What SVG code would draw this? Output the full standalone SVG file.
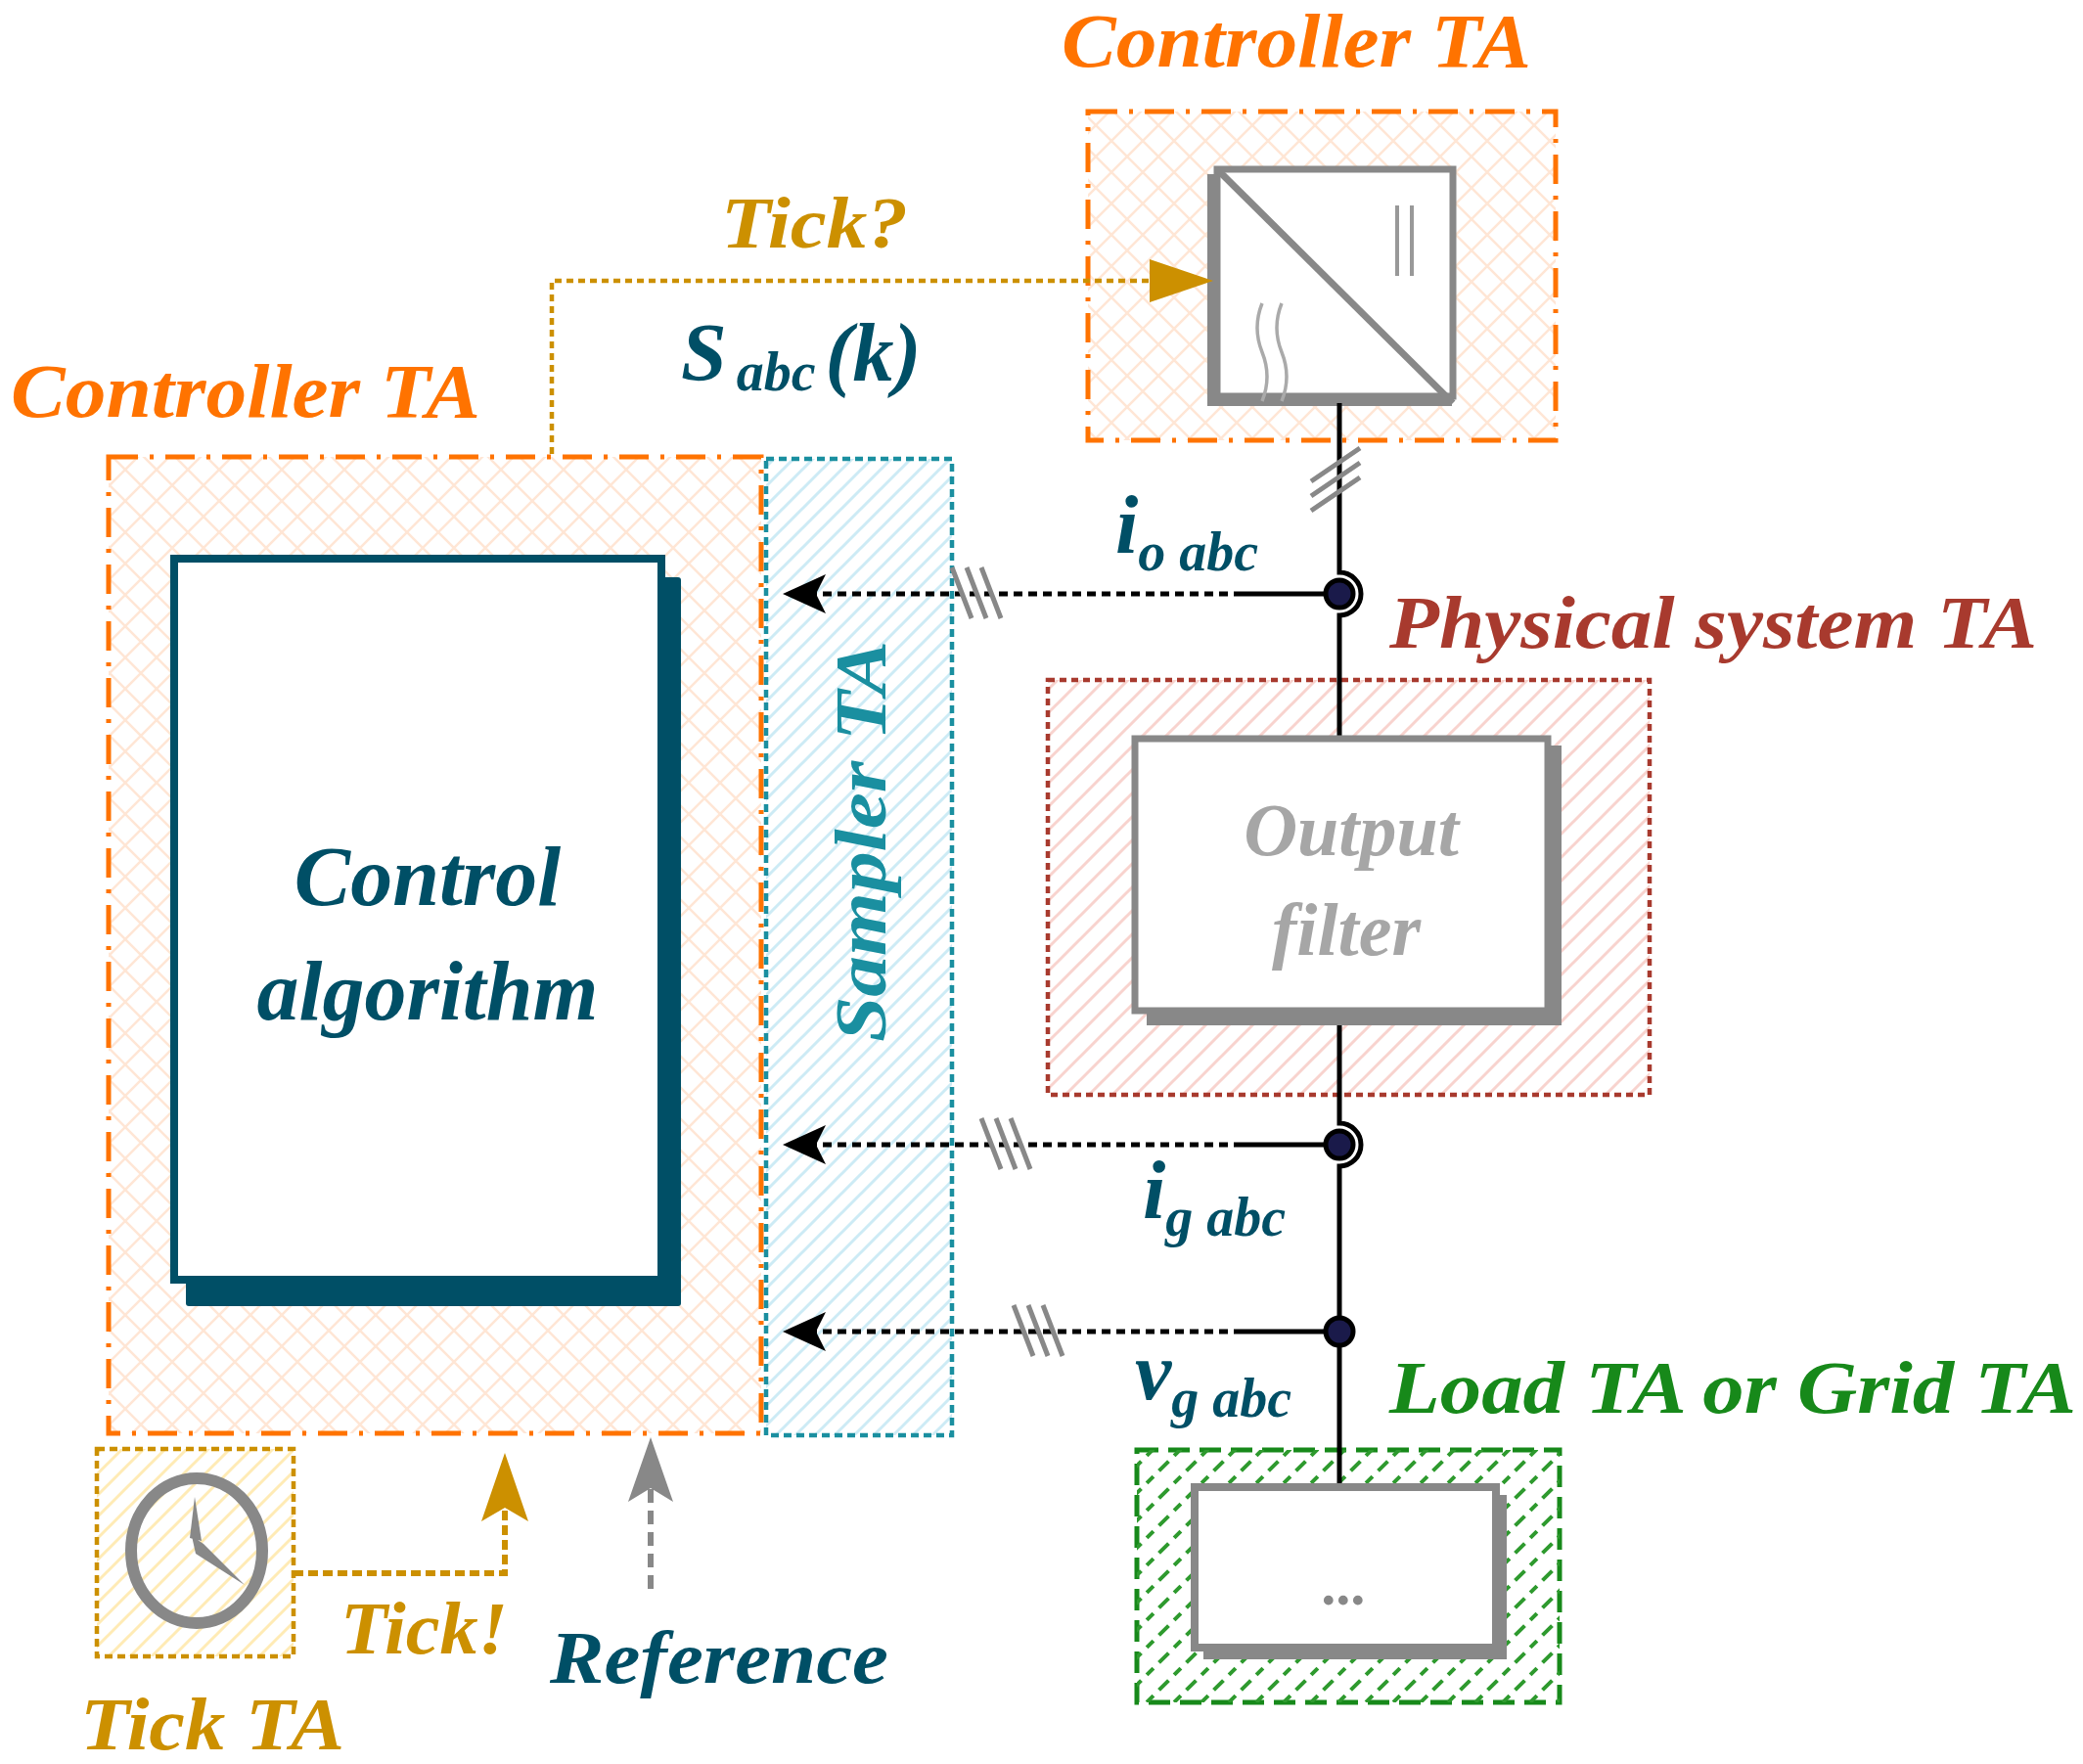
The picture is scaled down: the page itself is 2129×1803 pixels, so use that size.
<svg xmlns="http://www.w3.org/2000/svg" width="2129" height="1803" viewBox="0 0 2129 1803">
<style>
text{font-family:"Liberation Serif","Times New Roman",serif;font-weight:bold;font-style:italic}
.or{fill:#FF7300}.gold{fill:#CC9000}.teal{fill:#004F66}.red{fill:#A83A2E}.grn{fill:#17891A}
.conn{stroke:#000;stroke-width:5;stroke-dasharray:9 6;fill:none}
.slash{stroke:#888;stroke-width:5}
.wire{stroke:#000;stroke-width:5;fill:none}
</style>
<defs>
<pattern id="pOr" width="32" height="32" patternUnits="userSpaceOnUse"><path d="M0 0L32 32M32 0L0 32" stroke="#FFE6D5" stroke-width="2.5"/></pattern>
<pattern id="pBl" width="20" height="20" patternUnits="userSpaceOnUse"><path d="M-5 25L25 -5M-5 5L5 -5M15 25L25 15" stroke="#CDEBF5" stroke-width="3"/></pattern>
<pattern id="pRd" width="24" height="24" patternUnits="userSpaceOnUse"><path d="M-6 30L30 -6M-6 6L6 -6M18 30L30 18" stroke="#F8D3CE" stroke-width="3"/></pattern>
<pattern id="pGr" width="28" height="28" patternUnits="userSpaceOnUse"><path d="M-7 35L35 -7M-7 7L7 -7M21 35L35 21" stroke="#2E9A2E" stroke-width="4" stroke-dasharray="14 8"/></pattern>
<pattern id="pYl" width="22" height="22" patternUnits="userSpaceOnUse"><path d="M-5 27L27 -5M-5 5L5 -5M17 27L27 17" stroke="#FFEBB5" stroke-width="3"/></pattern>
</defs>

<g id="controller-top">
<rect x="1112" y="114" width="478" height="336" fill="url(#pOr)" stroke="#FF7300" stroke-width="5" stroke-dasharray="30 12 4 12"/>
<text x="1085" y="68" class="or" font-size="78" textLength="480" lengthAdjust="spacingAndGlyphs">Controller TA</text>
</g>
<g id="converter">
<rect x="1234" y="178" width="250" height="237" fill="#888"/>
<rect x="1244" y="173" width="241" height="232" fill="#fff" stroke="#888" stroke-width="7"/>
<path d="M1244 173L1485 412" stroke="#888" stroke-width="7"/>
<path d="M1428 210V282M1443 210V282" stroke="#999" stroke-width="4"/>
<path d="M1290 310q-10 25 0 50q10 25 0 50M1310 310q-10 25 0 50q10 25 0 50" stroke="#aaa" stroke-width="3.5" fill="none"/>
</g>

<g id="controller-left">
<rect x="111" y="467" width="667" height="998" fill="url(#pOr)" stroke="#FF7300" stroke-width="5" stroke-dasharray="30 12 4 12"/>
<text x="11" y="426" class="or" font-size="78" textLength="480" lengthAdjust="spacingAndGlyphs">Controller TA</text>
</g>
<g id="control-algorithm">
<rect x="190" y="590" width="506" height="745" fill="#004F66" rx="3"/>
<rect x="178" y="571" width="498" height="737" fill="#fff" stroke="#004F66" stroke-width="8"/>
<text x="437" y="925" class="teal" font-size="86" text-anchor="middle">Control</text>
<text x="437" y="1042" class="teal" font-size="86" text-anchor="middle">algorithm</text>
</g>
<g id="sampler">
<rect x="783" y="469" width="190" height="998" fill="url(#pBl)" stroke="#1A8FA0" stroke-width="4.5" stroke-dasharray="8 5"/>
<text transform="translate(905 860) rotate(-90)" fill="#1A8FA0" font-size="74" text-anchor="middle" textLength="410" lengthAdjust="spacingAndGlyphs">Sampler TA</text>
</g>

<g id="physical">
<rect x="1071" y="695" width="615" height="424" fill="url(#pRd)" stroke="#A83A2E" stroke-width="4.5" stroke-dasharray="7 5"/>
<text x="1420" y="662" class="red" font-size="76" textLength="662" lengthAdjust="spacingAndGlyphs">Physical system TA</text>
</g>

<g id="load">
<rect x="1162" y="1482" width="432" height="258" fill="#fff" stroke="#17891A" stroke-width="5" stroke-dasharray="22 10"/>
<rect x="1162" y="1482" width="432" height="258" fill="url(#pGr)"/>
<text x="1420" y="1444" class="grn" font-size="76" textLength="702" lengthAdjust="spacingAndGlyphs">Load TA or Grid TA</text>
</g>

<g id="tick">
<rect x="99" y="1481" width="201" height="212" fill="url(#pYl)" stroke="#CC9000" stroke-width="4.5" stroke-dasharray="8 5"/>
<ellipse cx="201" cy="1585" rx="67" ry="74" fill="none" stroke="#888" stroke-width="12"/>
<path d="M199 1530L206 1575L194 1572Z M196 1570L208 1578L250 1620L200 1588Z" fill="#888"/>
<text x="82" y="1788" class="gold" font-size="76" textLength="270" lengthAdjust="spacingAndGlyphs">Tick TA</text>
</g>

<g id="connectors">
<path class="wire" d="M1369 412V585a22 22 0 0 1 0 44V753M1369 1033V1148a22 22 0 0 1 0 44V1520"/>
<path class="slash" d="M1340 492L1390 458M1340 507L1390 473M1340 522L1390 488"/>
<path class="wire" d="M1270 607H1369M1270 1170H1369M1270 1361H1369"/>
<path class="conn" d="M1270 607H830M1270 1170H830M1270 1361H830"/>
<path d="M800 607l44-20l-10 20l10 20z M800 1170l44-20l-10 20l10 20z M800 1361l44-20l-10 20l10 20z" fill="#000"/>
<path class="slash" d="M973 580l20 52M988 580l20 52M1003 580l20 52"/>
<path class="slash" d="M1003 1143l20 52M1018 1143l20 52M1033 1143l20 52"/>
<path class="slash" d="M1036 1334l20 52M1051 1334l20 52M1066 1334l20 52"/>
<circle cx="1369" cy="607" r="14" fill="#1A1A4A" stroke="#000" stroke-width="5"/>
<circle cx="1369" cy="1170" r="14" fill="#1A1A4A" stroke="#000" stroke-width="5"/>
<circle cx="1369" cy="1361" r="14" fill="#1A1A4A" stroke="#000" stroke-width="5"/>
<path d="M564 464V287H1175" fill="none" stroke="#CC9000" stroke-width="4.5" stroke-dasharray="7 5"/>
<path d="M1175 265L1240 287L1175 309Z" fill="#CC9000"/>
<path d="M300 1608H516V1525" fill="none" stroke="#CC9000" stroke-width="6" stroke-dasharray="10 5"/>
<path d="M516 1485L540 1555L516 1541L492 1555Z" fill="#CC9000"/>
<path d="M665 1624V1520" fill="none" stroke="#888" stroke-width="6" stroke-dasharray="14 8"/>
<path d="M665 1469L688 1535L665 1521L642 1535Z" fill="#888"/>
</g>

<g id="output-filter">
<rect x="1172" y="762" width="424" height="286" fill="#888"/>
<rect x="1160" y="755" width="422" height="278" fill="#fff" stroke="#888" stroke-width="7"/>
<text x="1381" y="874" fill="#A6A6A6" font-size="76" text-anchor="middle">Output</text>
<text x="1376" y="976" fill="#A6A6A6" font-size="76" text-anchor="middle">filter</text>
</g>
<g id="load-block">
<rect x="1230" y="1528" width="310" height="168" fill="#888"/>
<rect x="1221" y="1520" width="308" height="164" fill="#fff" stroke="#888" stroke-width="8"/>
<text x="1375" y="1640" fill="#888" font-size="60" text-anchor="middle" font-style="normal">...</text>
</g>

<g id="labels">
<text x="737" y="253" class="gold" font-size="74" textLength="191" lengthAdjust="spacingAndGlyphs">Tick?</text>
<text x="696" y="389" class="teal" font-size="84">S<tspan font-size="56" dx="10" dy="10">abc</tspan><tspan dx="10" dy="-10">(k)</tspan></text>
<text x="1140" y="565" class="teal" font-size="84">i<tspan font-size="56" dy="18">o abc</tspan></text>
<text x="1168" y="1245" class="teal" font-size="84">i<tspan font-size="56" dy="18">g abc</tspan></text>
<text x="1160" y="1430" class="teal" font-size="84">v<tspan font-size="56" dy="18">g abc</tspan></text>
<text x="348" y="1690" class="gold" font-size="76" textLength="171" lengthAdjust="spacingAndGlyphs">Tick!</text>
<text x="562" y="1720" class="teal" font-size="76" textLength="346" lengthAdjust="spacingAndGlyphs">Reference</text>
</g>
</svg>
